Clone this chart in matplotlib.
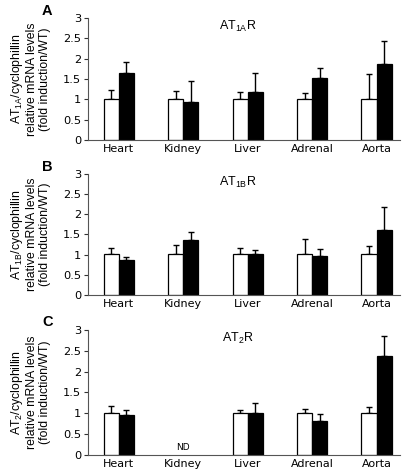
import numpy as np
import matplotlib
matplotlib.use('Agg')
import matplotlib.pyplot as plt

plt.rcParams['mathtext.fontset'] = 'custom'
plt.rcParams['mathtext.rm'] = 'Liberation Sans'

# данные
organs = ['Heart', 'Kidney', 'Liver', 'Adrenal', 'Aorta']

at1a_wt = [1.0, 1.0, 1.0, 1.0, 1.0]
at1a_wt_err = [0.24, 0.21, 0.17, 0.15, 0.63]
at1a_ko = [1.64, 0.94, 1.18, 1.52, 1.86]
at1a_ko_err = [0.29, 0.52, 0.47, 0.24, 0.57]

at1b_wt = [1.02, 1.02, 1.02, 1.02, 1.01]
at1b_wt_err = [0.14, 0.23, 0.15, 0.38, 0.21]
at1b_ko = [0.88, 1.36, 1.01, 0.96, 1.62]
at1b_ko_err = [0.06, 0.19, 0.11, 0.18, 0.57]

# Kidney для AT2R не визначено (ND)
at2_wt = [1.0, np.nan, 1.0, 1.0, 1.0]
at2_wt_err = [0.17, np.nan, 0.08, 0.11, 0.15]
at2_ko = [0.95, np.nan, 1.0, 0.82, 2.38]
at2_ko_err = [0.14, np.nan, 0.25, 0.16, 0.48]

panels = [
    ('A', r'AT$_{\mathregular{1A}}$R', r'AT$_{\mathregular{1A}}$/cyclophillin',
     at1a_wt, at1a_wt_err, at1a_ko, at1a_ko_err, [0.2167, 0.7034, 0.768, 0.2585]),
    ('B', r'AT$_{\mathregular{1B}}$R', r'AT$_{\mathregular{1B}}$/cyclophillin',
     at1b_wt, at1b_wt_err, at1b_ko, at1b_ko_err, [0.2167, 0.375, 0.768, 0.2564]),
    ('C', r'AT$_{\mathregular{2}}$R', r'AT$_{\mathregular{2}}$/cyclophillin',
     at2_wt, at2_wt_err, at2_ko, at2_ko_err, [0.2167, 0.036, 0.768, 0.265]),
]

fig = plt.figure(figsize=(4.06, 4.72), dpi=100)
x = np.arange(len(organs))
w = 0.235

for letter, title, ylab, wt, wt_err, ko, ko_err, pos in panels:
    ax = fig.add_axes(pos)
    wt = np.array(wt)
    ko = np.array(ko)
    ax.bar(x - w / 2, wt, w, color='white', edgecolor='black', linewidth=0.9, zorder=2)
    ax.bar(x + w / 2, ko, w, color='black', edgecolor='black', linewidth=0.9, zorder=2)
    # тільки верхні похибки
    ax.errorbar(x - w / 2, wt, yerr=[np.zeros(len(wt)), wt_err], fmt='none',
                ecolor='black', elinewidth=1, capsize=2.3, capthick=1, zorder=1)
    ax.errorbar(x + w / 2, ko, yerr=[np.zeros(len(ko)), ko_err], fmt='none',
                ecolor='black', elinewidth=1, capsize=2.3, capthick=1, zorder=1)

    if letter == 'C':
        ax.text(1, 0.08, 'ND', ha='center', va='bottom', fontsize=6.5)

    ax.set_xlim(-0.48, 4.36)
    ax.set_ylim(0, 3)
    ax.set_yticks([0, 0.5, 1, 1.5, 2, 2.5, 3])
    ax.set_yticklabels(['0', '0.5', '1', '1.5', '2', '2.5', '3'])
    ax.set_xticks(x)
    ax.set_xticklabels(organs)
    ax.tick_params(axis='x', length=0, pad=3, labelsize=8)
    ax.tick_params(axis='y', length=3, width=0.8, pad=2, labelsize=8.2, colors='#333333')
    for lab in ax.get_yticklabels():
        lab.set_color('black')
    for s in ['top', 'right']:
        ax.spines[s].set_visible(False)
    for s in ['left', 'bottom']:
        ax.spines[s].set_color('#555555')
        ax.spines[s].set_linewidth(0.8)

    ax.text(0.48, 0.93, title, transform=ax.transAxes, ha='center', va='center',
            fontsize=9, family='Liberation Sans')
    ax.set_ylabel(ylab + '\nrelative mRNA levels\n(fold induction/WT)',
                  fontsize=8.8, family='Liberation Sans', linespacing=1.15)
    ax.yaxis.set_label_coords(-0.117, 0.5)
    # буква панелі
    ax.text(-0.13, 1.06, letter, transform=ax.transAxes, ha='center', va='center',
            fontsize=10.5, fontweight='bold', family='Liberation Sans')

fig.savefig('out.png', dpi=100)
